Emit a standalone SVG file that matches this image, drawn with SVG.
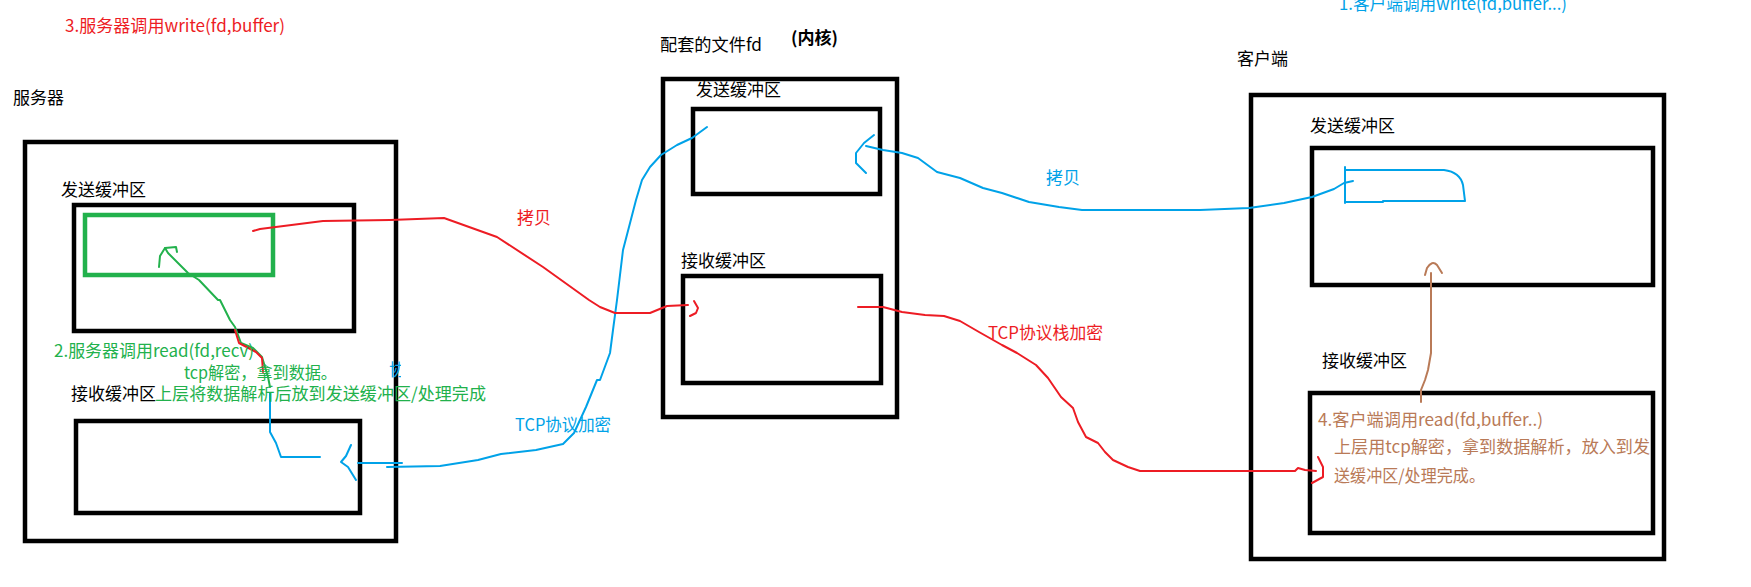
<svg xmlns="http://www.w3.org/2000/svg" width="1751" height="587" viewBox="0 0 1751 587">
<style>
text{font-family:"Noto Sans CJK SC","Noto Sans",sans-serif;font-size:17px}
.box{fill:none;stroke:#000;stroke-width:4.5}
.lbl{fill:#000}
.r{fill:#ed1c24}.g{fill:#22b14c}.b{fill:#00a2e8}.br{fill:#b97a57}
.ln{fill:none;stroke-width:2;stroke-linejoin:round;stroke-linecap:round}
.lr{stroke:#ed1c24}.lg{stroke:#22b14c}.lb{stroke:#00a2e8}.lbr{stroke:#b97a57}
</style>
<defs><clipPath id="frag"><rect x="389" y="355" width="12" height="30"/></clipPath></defs>
<rect width="1751" height="587" fill="#fff"/>

<text class="r" x="65" y="32" textLength="220" lengthAdjust="spacingAndGlyphs">3.服务器调用write(fd,buffer)</text>
<text class="b" x="1339" y="10" textLength="228" lengthAdjust="spacingAndGlyphs">1.客户端调用write(fd,buffer...)</text>

<g id="server">
<text class="lbl" x="13" y="104">服务器</text>
<rect class="box" x="25" y="142" width="371" height="399"/>
</g>
<g id="server-send">
<text class="lbl" x="61" y="196">发送缓冲区</text>
<rect class="box" x="74" y="205" width="280" height="126"/>
</g>
<g id="server-send-data">
<rect x="85" y="215" width="188" height="60" fill="none" stroke="#22b14c" stroke-width="4.5"/>
</g>
<g id="server-recv">
<text class="lbl" x="71" y="400">接收缓冲区</text>
<rect class="box" x="76" y="421" width="284" height="92"/>
</g>

<g id="fd">
<text class="lbl" x="660" y="51" textLength="102" lengthAdjust="spacingAndGlyphs">配套的文件fd</text>
<text class="lbl" x="791" y="44" font-weight="bold" font-size="16" textLength="47" lengthAdjust="spacingAndGlyphs">(内核)</text>
<rect class="box" x="663" y="79" width="234" height="338"/>
</g>
<g id="fd-send">
<text class="lbl" x="696" y="96">发送缓冲区</text>
<rect class="box" x="693" y="109" width="187" height="85"/>
</g>
<g id="fd-recv">
<text class="lbl" x="681" y="267">接收缓冲区</text>
<rect class="box" x="683" y="276" width="198" height="107"/>
</g>

<g id="client">
<text class="lbl" x="1237" y="65">客户端</text>
<rect class="box" x="1251" y="95" width="413" height="464"/>
</g>
<g id="client-send">
<text class="lbl" x="1310" y="132">发送缓冲区</text>
<rect class="box" x="1312" y="148" width="341" height="137"/>
</g>
<g id="client-recv">
<text class="lbl" x="1322" y="367">接收缓冲区</text>
<rect class="box" x="1310" y="393" width="343" height="140"/>
<text class="br" x="1318" y="426" textLength="225" lengthAdjust="spacingAndGlyphs">4.客户端调用read(fd,buffer..)</text>
<text class="br" x="1334" y="453" textLength="316" lengthAdjust="spacingAndGlyphs">上层用tcp解密，拿到数据解析，放入到发</text>
<text class="br" x="1334" y="482" textLength="151" lengthAdjust="spacingAndGlyphs">送缓冲区/处理完成。</text>
</g>

<g id="connectors">
<!-- client write: client send buffer data -> fd send buffer (copy) -->
<path class="ln lb" d="M1345,167 L1345,203 M1345,170 L1444,170 Q1460,172 1463,185 L1465,201 L1383,201 L1383,202 L1345,202"/>
<polyline class="ln lb" points="1353,181 1344,183 1334,189 1312,197 1284,203 1249,208 1200,210 1082,210 1059,207 1029,202 1002,193 983,188 960,178 937,172 918,158 902,153 883,150 866,146"/>
<polyline class="ln lb" points="874,135 864,143 856,153 856,163 866,173"/>
<text class="b" x="1046" y="184" font-size="16">拷贝</text>

<!-- fd send -> server recv (TCP encrypt) -->
<polyline class="ln lb" points="707,127 692,138 677,145 661,155 650,167 642,180 636,200 629,227 623,250 617,300 613,330 610,353 600,380 597,380 586,407 574,433 563,444 536,450 501,454 478,460 440,466 387,467"/>
<polyline class="ln lb" points="358,463 402,463"/>
<polyline class="ln lb" points="351,445 346,456 341,462 348,467 356,480"/>
<text class="b" x="515" y="431" textLength="96" lengthAdjust="spacingAndGlyphs">TCP协议加密</text>
<text class="b" x="389" y="376" clip-path="url(#frag)">协</text>
<polyline class="ln lb" points="320,457 281,457 276,443 270,432 270,393"/>

<!-- server read: green -->
<polyline class="ln lg" points="270,387 268,377 262,357 253,348 241,343 235,327 230,320 220,300 218,300 199,280 188,273 168,253 165,248"/>
<polyline class="ln lg" points="159,267 160,256 165,248 176,247 177,252"/>
<polyline class="ln lr" points="235,330 239,343 256,352 262,358 263,372"/>
<text class="g" x="54" y="357" textLength="200" lengthAdjust="spacingAndGlyphs">2.服务器调用read(fd,recv)</text>
<text class="g" x="184" y="379" textLength="153" lengthAdjust="spacingAndGlyphs">tcp解密，拿到数据。</text>
<text class="g" x="155" y="400" textLength="331" lengthAdjust="spacingAndGlyphs">上层将数据解析后放到发送缓冲区/处理完成</text>

<!-- server write: red copy to fd recv -->
<polyline class="ln lr" points="253,231 260,229 323,221 390,220 444,218 497,237 543,267 589,300 600,307 615,313 650,313 667,306 688,305"/>
<polyline class="ln lr" points="694,301 698,308 696,313 690,316"/>
<text class="r" x="517" y="224" font-size="16">拷贝</text>

<!-- fd recv -> client recv (TCP stack encrypt) -->
<polyline class="ln lr" points="858,307 883,307 902,312 925,315 944,316 960,321 979,332 1002,345 1017,353 1036,365 1048,378 1061,397 1073,408 1078,422 1086,437 1098,443 1105,452 1113,460 1128,467 1140,471 1200,471 1295,471 1298,468 1305,470 1316,471"/>
<polyline class="ln lr" points="1318,457 1323,467 1323,477 1312,483"/>
<text class="r" x="988" y="339" textLength="115" lengthAdjust="spacingAndGlyphs">TCP协议栈加密</text>

<!-- client read: brown -->
<polyline class="ln lbr" points="1421,402 1421,390 1425,380 1428,370 1431,353 1431,273"/>
<path class="ln lbr" d="M1425,275 L1427,268 Q1432,260 1437,265 L1442,273"/>
</g>
</svg>
